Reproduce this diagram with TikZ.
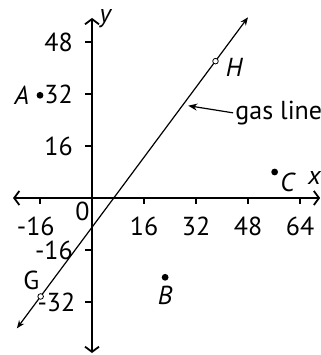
\documentclass[tikz,border=0pt]{standalone}
\usepackage{fontspec}
\setmainfont{PT Sans}
\usetikzlibrary{positioning, arrows.meta}

\begin{document}
\begin{tikzpicture}[x=1.625pt, y=1.625pt,
    font=\fontsize{13}{15}\selectfont,
    axisline/.style={line width=0.9pt,
      {Straight Barb[length=2.6pt,width=7pt]}-{Straight Barb[length=2.6pt,width=7pt]}},
    gasline/.style={line width=0.6pt,
      {Stealth[open,length=4pt,width=3.2pt]}-{Stealth[open,length=4pt,width=3.2pt]}},
    dotpt/.style={circle, fill=black, inner sep=0pt, minimum size=3.4pt},
    ringpt/.style={circle, draw=black, fill=white, line width=0.4pt,
      inner sep=0pt, minimum size=2.8pt},
    ticklbl/.style={inner sep=1pt},
    node distance=1pt]
  \useasboundingbox (-28.31,-48.31) rectangle (70.46,60.92);

  % axes
  \coordinate (xl) at (-24.3,0);
  \coordinate (xr) at (70.2,0);
  \coordinate (yb) at (0,-47.7);
  \coordinate (yt) at (0,55.4);
  \draw[axisline] (xl) -- (xr);
  \draw[axisline] (yb) -- (yt);
  \node[anchor=south west, inner sep=0pt] (ylbl) at (2.2,52.3) {\textit{y}};
  \node[anchor=west, inner sep=0pt] (xlbl) at (66.4,6.2) {\textit{x}};

  % gas line
  \coordinate (gs) at (-23.1,-40.1);
  \coordinate (ge) at (48,55.6);
  \draw[gasline] (gs) -- (ge);
  \node[ringpt] (G) at (-15.8,-30.3) {};
  \node[ringpt] (H) at (38,42.1) {};
  \node[above left=-1.5pt and -4pt of G] (Glbl) {G};
  \node[right=0pt of H, yshift=-3pt] (Hlbl) {\textit{H}};

  % ticks
  \foreach \t in {-16,16,32,48,64} {
    \draw[line width=0.6pt] (\t,0) -- (\t,-2);
  }
  \foreach \t in {-16,16,32,48} {
    \draw[line width=0.6pt] (0,\t) -- (-2.2,\t);
    \node[ticklbl, anchor=east] (ty\t) at (-5.2,\t) {\t};
  }
  \draw[line width=0.6pt] (0,-32) -- (-2.2,-32);
  \node[ticklbl, anchor=east] (ty-32) at (-4.4,-32) {-32};
  \node[ticklbl] (tx-16) at (-17.3,-8.8) {-16};
  \foreach \t in {16,32,48,64} {
    \node[ticklbl] (tx\t) at (\t,-8.8) {\t};
  }
  \node[ticklbl] (tx0) at (-2.9,-4.1) {0};

  % points
  \node[dotpt] (A) at (-16,31.6) {};
  \node[left=0pt of A] (Albl) {\textit{A}};
  \node[dotpt] (B) at (22.5,-24.4) {};
  \node[below=-1pt of B] (Blbl) {\textit{B}};
  \node[dotpt] (C) at (56.2,8) {};
  \node[anchor=north west, inner sep=1pt] (Clbl) at (57.2,8.4) {\textit{C}};

  % label for the line
  \node[anchor=west, inner sep=1pt] (gaslbl) at (43.4,26.2) {gas line};
  \coordinate (gtip) at (29.6,28.4);
  \draw[line width=0.6pt, -{Stealth[length=4.5pt,width=3.5pt]}] (gaslbl.west) -- (gtip);
\end{tikzpicture}
\end{document}
